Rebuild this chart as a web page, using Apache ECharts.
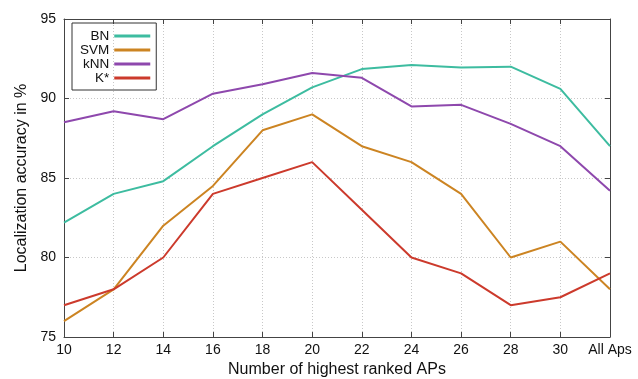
<!DOCTYPE html>
<html>
<head>
<meta charset="utf-8">
<script src="https://cdn.jsdelivr.net/npm/echarts@6/dist/echarts.min.js"></script>
<style>html,body{margin:0;padding:0;background:#fff}#c{width:638px;height:379px}</style>
</head>
<body>
<div id="c"></div>
<script>
const categories = ['10','12','14','16','18','20','22','24','26','28','30','All Aps'];
const bnValues  = [82.2, 84.0, 84.8, 87.0, 89.0, 90.7, 91.85, 92.1, 91.95, 92.0, 90.6, 87.0];
const svmValues = [76.0, 78.0, 82.0, 84.5, 88.0, 89.0, 87.0, 86.0, 84.0, 80.0, 81.0, 78.0];
const knnValues = [88.5, 89.2, 88.7, 90.3, 90.9, 91.6, 91.3, 89.5, 89.6, 88.4, 87.0, 84.2];
const kstarValues = [77.0, 78.0, 80.0, 84.0, 85.0, 86.0, 83.0, 80.0, 79.0, 77.0, 77.5, 79.0];
const yTicks = { min: 75, max: 95, interval: 5 };

const font = 'Liberation Sans, Arial, Helvetica, sans-serif';
const axisColor = '#444';
const gridLine = { show: true, lineStyle: { color: '#c8c8c8', type: [1, 2], width: 1 } };

const chart = echarts.init(document.getElementById('c'), null, { renderer: 'canvas' });
function mk(name, data, color) {
  return { name, type: 'line', data, xAxisIndex: 0, yAxisIndex: 0, symbol: 'none', animation: false,
    lineStyle: { color, width: 2 }, itemStyle: { color } };
}
chart.setOption({
  backgroundColor: '#fff',
  animation: false,
  grid: { left: 64, right: 28, top: 19, bottom: 42, containLabel: false, outerBoundsMode: 'none' },
  legend: {
    orient: 'vertical', left: 72, top: 23, align: 'right',
    icon: 'rect', itemWidth: 36, itemHeight: 3, itemGap: 0,
    borderColor: '#333', borderWidth: 1, borderRadius: 0,
    padding: [6, 6, 5, 8],
    textStyle: { fontFamily: font, fontSize: 13.5, color: '#111', lineHeight: 13 },
    data: ['BN', 'SVM', 'kNN', 'K*']
  },
  xAxis: [{
    type: 'category', data: categories, boundaryGap: false, position: 'bottom',
    name: 'Number of highest ranked APs', nameLocation: 'middle', nameGap: 22,
    nameTextStyle: { fontFamily: font, fontSize: 16, color: '#111' },
    axisLine: { show: true, lineStyle: { color: axisColor } },
    axisTick: { show: true, inside: true, length: 5, lineStyle: { color: axisColor } },
    axisLabel: { fontFamily: font, fontSize: 14, color: '#111', margin: 6, interval: 0 },
    splitLine: gridLine
  }, {
    type: 'category', data: categories, boundaryGap: false, position: 'top',
    axisLine: { show: true, lineStyle: { color: axisColor } },
    axisTick: { show: true, inside: true, length: 5, lineStyle: { color: axisColor } },
    axisLabel: { show: false }, splitLine: { show: false }
  }],
  yAxis: [{
    type: 'value', min: yTicks.min, max: yTicks.max, interval: yTicks.interval, position: 'left',
    name: 'Localization accuracy in %', nameLocation: 'middle', nameGap: 32, nameRotate: 90,
    nameTextStyle: { fontFamily: font, fontSize: 16, color: '#111' },
    axisLine: { show: true, lineStyle: { color: axisColor } },
    axisTick: { show: true, inside: true, length: 5, lineStyle: { color: axisColor } },
    axisLabel: { fontFamily: font, fontSize: 14, color: '#111', margin: 8 },
    splitLine: gridLine
  }, {
    type: 'value', min: yTicks.min, max: yTicks.max, interval: yTicks.interval, position: 'right',
    axisLine: { show: true, lineStyle: { color: axisColor } },
    axisTick: { show: true, inside: true, length: 5, lineStyle: { color: axisColor } },
    axisLabel: { show: false }, splitLine: { show: false }
  }],
  series: [
    mk('BN', bnValues, '#3dbca0'),
    mk('SVM', svmValues, '#cc8422'),
    mk('kNN', knnValues, '#8e48ad'),
    mk('K*', kstarValues, '#cc3a2c')
  ]
});
</script>
</body>
</html>
